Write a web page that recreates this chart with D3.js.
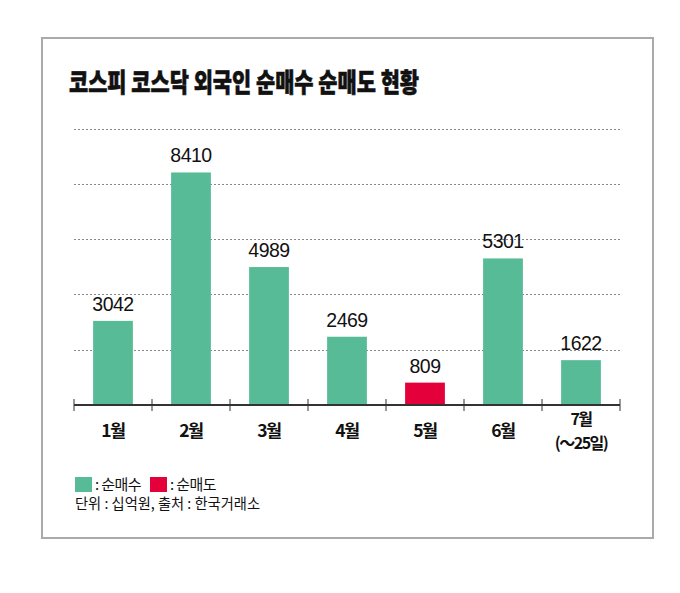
<!DOCTYPE html>
<html><head><meta charset="utf-8">
<script src="https://cdn.jsdelivr.net/npm/d3@7"></script>
<style>html,body{margin:0;padding:0;background:#fff;}</style>
</head><body>
<svg id="c" width="680" height="593"></svg>
<script>
const title = "코스피 코스닥 외국인 순매수 순매도 현황";
const months = ["1월","2월","3월","4월","5월","6월","7월"];
const monthSub = ["","","","","","","(～25일)"];
const values = [3042, 8410, 4989, 2469, 809, 5301, 1622];
const kinds = ["buy","buy","buy","buy","sell","buy","buy"];
const gridTicks = [2000, 4000, 6000, 8000, 10000];
const legendItems = [{key:"buy", label:": 순매수"}, {key:"sell", label:": 순매도"}];
const note = "단위 : 십억원, 출처 : 한국거래소";

const colors = {buy:"#58bb98", sell:"#e4003a"};
const svg = d3.select("#c");
const KR = "'Noto Sans CJK KR','Noto Sans',sans-serif";
const NUM = "'Liberation Sans',Arial,Helvetica,sans-serif";

// frame
svg.append("rect").attr("x",42).attr("y",38).attr("width",611).attr("height",500)
  .attr("fill","#fff").attr("stroke","#aaa").attr("stroke-width",2);

// title
svg.append("text").attr("x",69).attr("y",92).text(title)
  .attr("font-family",KR).attr("font-weight",900).attr("font-size",26.5)
  .attr("textLength",350).attr("lengthAdjust","spacingAndGlyphs").attr("fill","#111")
  .attr("stroke","#111").attr("stroke-width",0.6);

const x0 = 74, x1 = 620, yBase = 405;
const x = d3.scaleBand().domain(months).range([x0,x1]).paddingInner(0.49).paddingOuter(0.245);
const xb = d3.scaleBand().domain(months).range([x0,x1]).padding(0);
const y = d3.scaleLinear().domain([0,10000]).range([yBase,128.5]);

// grid
svg.append("g").selectAll("line").data(gridTicks).join("line")
  .attr("x1",x0).attr("x2",x1).attr("y1",d=>Math.round(y(d))+0.5).attr("y2",d=>Math.round(y(d))+0.5)
  .attr("stroke","#888").attr("stroke-width",1).attr("stroke-dasharray","2,2");

// bars
svg.append("g").selectAll("rect").data(values).join("rect")
  .attr("x",(d,i)=>x(months[i])).attr("width",x.bandwidth())
  .attr("y",d=>y(d)).attr("height",d=>yBase-y(d))
  .attr("fill",(d,i)=>colors[kinds[i]]);

// value labels
svg.append("g").selectAll("text").data(values).join("text")
  .attr("x",(d,i)=>x(months[i])+x.bandwidth()/2).attr("y",d=>y(d)-10)
  .attr("text-anchor","middle").attr("font-family",NUM).attr("font-size",19.5)
  .attr("letter-spacing","-0.5").attr("fill","#111").text(d=>d);

// axis line and ticks
svg.append("line").attr("x1",x0).attr("x2",x1).attr("y1",yBase).attr("y2",yBase)
  .attr("stroke","#333").attr("stroke-width",2);
const tickPos = months.map(m=>xb(m)).concat([x1]);
svg.append("g").selectAll("line").data(tickPos).join("line")
  .attr("x1",d=>d).attr("x2",d=>d).attr("y1",399).attr("y2",411)
  .attr("stroke","#333").attr("stroke-width",1);

// month labels
const mg = svg.append("g").attr("font-family",KR).attr("font-weight",700)
  .attr("fill","#111").attr("text-anchor","middle");
months.forEach((m,i)=>{
  const cx = xb(m)+xb.bandwidth()/2;
  if (monthSub[i]) {
    mg.append("text").attr("x",cx).attr("y",425).attr("font-size",16).attr("letter-spacing","-1.5").text(m);
    mg.append("text").attr("x",cx).attr("y",449).attr("font-size",16).attr("letter-spacing","-1.5").text(monthSub[i]);
  } else {
    mg.append("text").attr("x",cx).attr("y",437).attr("font-size",17.5).attr("letter-spacing","-1.5").text(m);
  }
});

// legend
const lg = svg.append("g");
const lx = [75, 150];
legendItems.forEach((it,i)=>{
  lg.append("rect").attr("x",lx[i]).attr("y",477).attr("width",17).attr("height",15).attr("fill",colors[it.key]);
  lg.append("text").attr("x",lx[i]+20).attr("y",490).text(it.label)
    .attr("font-family",KR).attr("font-size",15).attr("fill","#111").attr("letter-spacing","-0.6");
});
lg.append("text").attr("x",75).attr("y",509).text(note)
  .attr("font-family",KR).attr("font-size",15).attr("fill","#111")
  .attr("textLength",185).attr("lengthAdjust","spacingAndGlyphs");
</script>
</body></html>
